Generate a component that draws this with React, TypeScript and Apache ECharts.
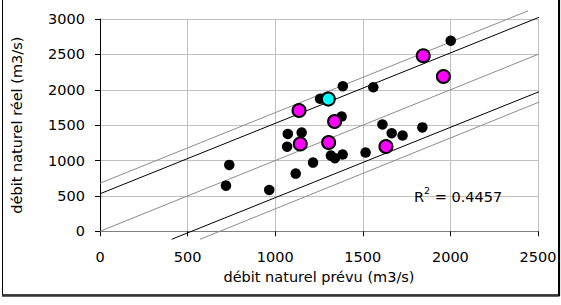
import React, { useEffect, useRef } from "react";
import * as echarts from "echarts";

const xTicks = [0, 500, 1000, 1500, 2000, 2500];
const yTicks = [0, 500, 1000, 1500, 2000, 2500, 3000];

// black observations [prévu, réel]
const blackPrevu = [719, 738, 966, 1117, 1216, 1068, 1072, 1151, 1318, 1341, 1385, 1379, 1256, 1386, 1560, 2002, 1612, 1665, 1727, 1840, 1516];
const blackReel = [645, 938, 584, 815, 971, 1195, 1375, 1395, 1070, 1033, 1085, 1622, 1872, 2050, 2035, 2693, 1510, 1386, 1353, 1468, 1113];

const magentaPrevu = [1143, 1305, 1339, 1136, 1845, 1960, 1632];
const magentaReel = [1235, 1254, 1551, 1707, 2481, 2188, 1197];

const cyanPrevu = [1303];
const cyanReel = [1868];

// reference lines: [x0, y0, x1, y1]
const upperGray = [0, 680, 2443, 3115];
const upperBlack = [0, 530, 2557, 3075];
const identityGray = [0, 0, 2557, 2557];
const lowerBlack = [409, -113, 2557, 2023];
const lowerGray = [571, -113, 2557, 1877];

const r2Text = "0.4457";

const FONT = "DejaVu Sans";

function pairs(xs: number[], ys: number[]) {
  return xs.map((x, i) => [x, ys[i]]);
}
function seg(l: number[]) {
  return [
    [l[0], l[1]],
    [l[2], l[3]],
  ];
}

export default function App() {
  const ref = useRef<HTMLDivElement>(null);
  useEffect(() => {
    if (!ref.current) return;
    const chart = echarts.init(ref.current, undefined, { renderer: "svg" });
    const lineSeries = (l: number[], color: string) => ({
      type: "line",
      data: seg(l),
      clip: false,
      symbol: "none",
      silent: true,
      lineStyle: { color, width: 1 },
      z: 2,
    });
    chart.setOption({
      animation: false,
      backgroundColor: "#ffffff",
      grid: { left: 100, right: 23, top: 19, bottom: 73.7, containLabel: false },
      xAxis: {
        type: "value",
        min: xTicks[0],
        max: xTicks[xTicks.length - 1],
        interval: 500,
        name: "débit naturel prévu (m3/s)",
        nameLocation: "middle",
        nameGap: 44,
        nameTextStyle: { fontFamily: FONT, fontSize: 14.5, color: "#000", verticalAlign: "middle" },
        axisLine: { show: true, onZero: false, lineStyle: { color: "#808080", width: 1 } },
        axisTick: { show: true, length: 5, inside: false, lineStyle: { color: "#000" } },
        axisLabel: { fontFamily: FONT, fontSize: 14.5, color: "#000", margin: 18, formatter: (v: number) => String(v) },
        splitLine: { show: true, lineStyle: { color: "#c0c0c0", width: 1 } },
      },
      yAxis: {
        type: "value",
        min: yTicks[0],
        max: yTicks[yTicks.length - 1],
        interval: 500,
        name: "débit naturel réel (m3/s)",
        nameLocation: "middle",
        nameGap: 83,
        nameRotate: 90,
        nameTextStyle: { fontFamily: FONT, fontSize: 14.5, color: "#000", verticalAlign: "middle" },
        axisLine: { show: true, onZero: false, lineStyle: { color: "#000", width: 1 } },
        axisTick: { show: true, length: 5, inside: false, lineStyle: { color: "#000" } },
        axisLabel: { fontFamily: FONT, fontSize: 14.5, color: "#000", margin: 15, formatter: (v: number) => String(v) },
        splitLine: { show: true, lineStyle: { color: "#c0c0c0", width: 1 } },
      },
      series: [
        lineSeries(upperGray, "#8c8c8c"),
        lineSeries(upperBlack, "#000000"),
        lineSeries(identityGray, "#8c8c8c"),
        lineSeries(lowerBlack, "#000000"),
        lineSeries(lowerGray, "#8c8c8c"),
        {
          type: "scatter",
          data: pairs(blackPrevu, blackReel),
          symbol: "circle",
          symbolSize: 10.5,
          itemStyle: { color: "#000000", opacity: 1 },
          z: 3,
        },
        {
          type: "scatter",
          data: pairs(magentaPrevu, magentaReel),
          symbol: "circle",
          symbolSize: 13,
          itemStyle: { color: "#ff00ff", borderColor: "#000000", borderWidth: 2, opacity: 1 },
          z: 4,
        },
        {
          type: "scatter",
          data: pairs(cyanPrevu, cyanReel),
          symbol: "circle",
          symbolSize: 13,
          itemStyle: { color: "#00ffff", borderColor: "#000000", borderWidth: 2, opacity: 1 },
          z: 4,
        },
      ],
      graphic: [
        {
          type: "text",
          x: 414,
          y: 196,
          z: 10,
          style: {
            text: "{a|R}{b|2}{a| = " + r2Text + "}",
            verticalAlign: "middle",
            rich: {
              a: { fontFamily: FONT, fontSize: 14.5, fill: "#000", lineHeight: 17, verticalAlign: "bottom" },
              b: { fontFamily: FONT, fontSize: 9.5, fill: "#000", lineHeight: 17, verticalAlign: "top", padding: [-2, 0, 0, 0] },
            },
          },
        },
        {
          type: "rect",
          shape: { x: 2.5, y: -2, width: 556, height: 297 },
          style: { fill: "none", stroke: "#000", lineWidth: 1 },
          z: 10,
        },
        {
          type: "line",
          shape: { x1: 2, y1: 295.5, x2: 559.5, y2: 295.5 },
          style: { stroke: "#333", lineWidth: 2.5 },
          z: 10,
        },
        {
          type: "line",
          shape: { x1: 559.2, y1: -2, x2: 559.2, y2: 296 },
          style: { stroke: "#000", lineWidth: 1.8 },
          z: 10,
        },
      ],
    });
    return () => chart.dispose();
  }, []);
  return (
    <div
      ref={ref}
      style={{ position: "fixed", left: 0, top: 0, width: 561, height: 305, background: "#fff" }}
    />
  );
}
